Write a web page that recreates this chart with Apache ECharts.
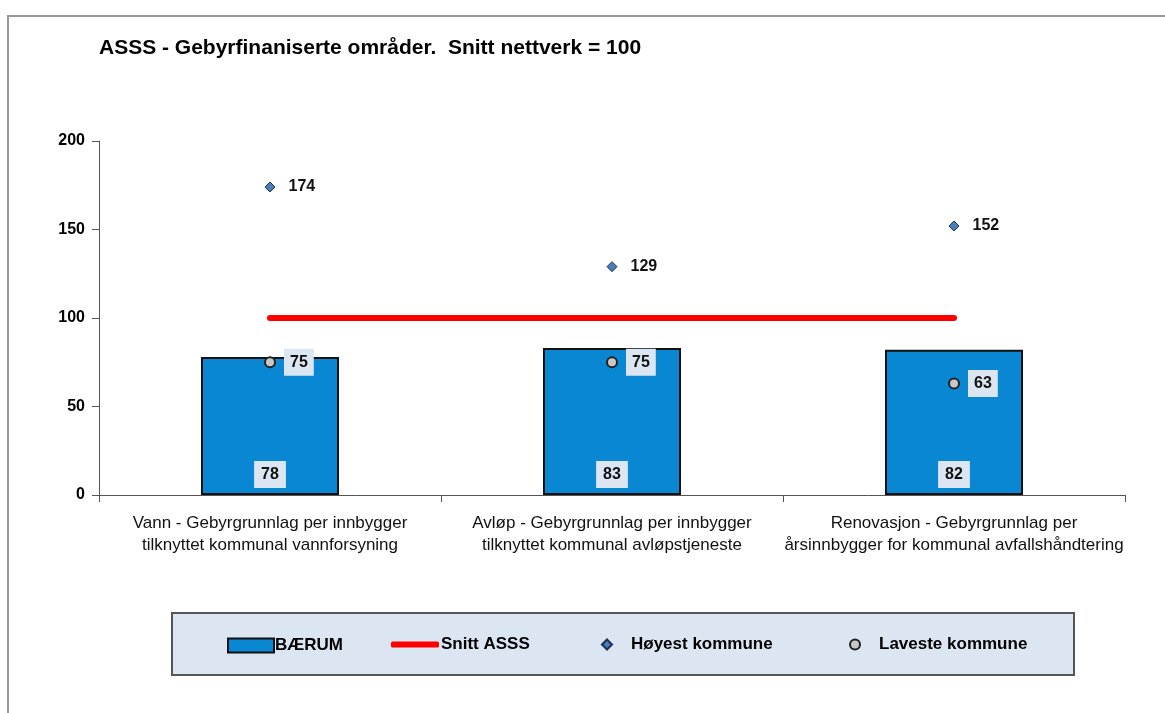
<!DOCTYPE html>
<html>
<head>
<meta charset="utf-8">
<script src="https://cdn.jsdelivr.net/npm/echarts@6/dist/echarts.min.js"></script>
<style>
  html, body { margin: 0; padding: 0; background: #fff; }
  #chart { width: 1165px; height: 713px; }
</style>
</head>
<body>
<div id="chart"></div>
<script>
// kategorier og verdier
var categories = [
  'Vann - Gebyrgrunnlag per innbygger\ntilknyttet kommunal vannforsyning',
  'Avløp - Gebyrgrunnlag per innbygger\ntilknyttet kommunal avløpstjeneste',
  'Renovasjon - Gebyrgrunnlag per\nårsinnbygger for kommunal avfallshåndtering'
];
var baerum = [78, 83, 82];
var snittASSS = [100, 100, 100];
var hoyest = [174, 129, 152];
var laveste = [75, 75, 63];

var FONT = '"Liberation Sans", Arial, sans-serif';
var labelBg = '#dce6f2';

var chart = echarts.init(document.getElementById('chart'));

chart.setOption({
  animation: false,
  textStyle: { fontFamily: FONT },
  title: {
    text: 'ASSS - Gebyrfinaniserte områder.  Snitt nettverk = 100',
    left: 94,
    top: 33,
    textStyle: { fontSize: 21, fontWeight: 'bold', color: '#000', fontFamily: FONT }
  },
  graphic: [
    { type: 'rect', z: -10, shape: { x: 8, y: 16, width: 1200, height: 800 },
      style: { fill: 'none', stroke: '#9a9a9a', lineWidth: 2 } },
    { type: 'rect', z: -5, shape: { x: 172, y: 613, width: 902, height: 62 },
      style: { fill: '#dce6f2', stroke: '#555', lineWidth: 2 } }
  ],
  legend: [
    { data: ['BÆRUM'], left: 222, top: 632, icon: 'rect', itemWidth: 46, itemHeight: 14, itemGap: 0,
      textStyle: { fontSize: 17, fontWeight: 'bold', color: '#000', padding: [0, 0, 2, -4] } },
    { data: ['Snitt ASSS'], left: 386, top: 631, icon: 'roundRect', itemWidth: 48, itemHeight: 6,
      textStyle: { fontSize: 17, fontWeight: 'bold', color: '#000', padding: [0, 0, 0, -3] } },
    { data: ['Høyest kommune'], left: 596, top: 631, icon: 'diamond', itemWidth: 10, itemHeight: 10,
      textStyle: { fontSize: 17, fontWeight: 'bold', color: '#000', padding: [0, 0, 0, 14] } },
    { data: ['Laveste kommune'], left: 844, top: 631, icon: 'circle', itemWidth: 10, itemHeight: 10,
      textStyle: { fontSize: 17, fontWeight: 'bold', color: '#000', padding: [0, 0, 0, 14] } }
  ],
  grid: { left: 99, right: 40, top: 141, bottom: 218 },
  xAxis: {
    type: 'category',
    data: categories,
    axisLine: { lineStyle: { color: '#555', width: 1 } },
    axisTick: { show: true, length: 7, lineStyle: { color: '#555' } },
    axisLabel: { color: '#111', fontSize: 17, lineHeight: 22, margin: 17, interval: 0 }
  },
  yAxis: {
    type: 'value',
    min: 0,
    max: 200,
    interval: 50,
    splitLine: { show: false },
    axisLine: { show: true, lineStyle: { color: '#555', width: 1 } },
    axisTick: { show: true, length: 7, lineStyle: { color: '#555' } },
    axisLabel: { color: '#000', fontSize: 16, fontWeight: 'bold', margin: 14 }
  },
  series: [
    {
      name: 'BÆRUM',
      type: 'bar',
      data: baerum,
      barWidth: 138,
      itemStyle: { color: '#0a87d2', borderColor: '#111', borderWidth: 2 },
      label: {
        show: true, position: 'insideBottom', distance: 7,
        fontSize: 16, fontWeight: 'bold', color: '#111',
        backgroundColor: labelBg, padding: [6, 7, 5, 7]
      }
    },
    {
      name: 'Snitt ASSS',
      type: 'line',
      data: snittASSS,
      symbol: 'none',
      color: '#ff0000',
      lineStyle: { color: '#ff0000', width: 6, cap: 'round' },
      z: 3
    },
    {
      name: 'Høyest kommune',
      type: 'scatter',
      data: hoyest,
      symbol: 'diamond',
      symbolSize: 10,
      itemStyle: { color: '#4a7ebb', borderColor: '#1f3050', borderWidth: 1, opacity: 1 },
      label: {
        show: true, position: 'right', distance: 13,
        fontSize: 16, fontWeight: 'bold', color: '#111'
      },
      z: 5
    },
    {
      name: 'Laveste kommune',
      type: 'scatter',
      data: laveste,
      symbol: 'circle',
      symbolSize: 10,
      itemStyle: { color: '#c8c8c8', borderColor: '#222', borderWidth: 2, opacity: 1 },
      label: {
        show: true, position: 'right', distance: 8,
        fontSize: 16, fontWeight: 'bold', color: '#111',
        backgroundColor: labelBg, padding: [6, 6, 5, 6]
      },
      z: 5
    }
  ]
});
</script>
</body>
</html>
